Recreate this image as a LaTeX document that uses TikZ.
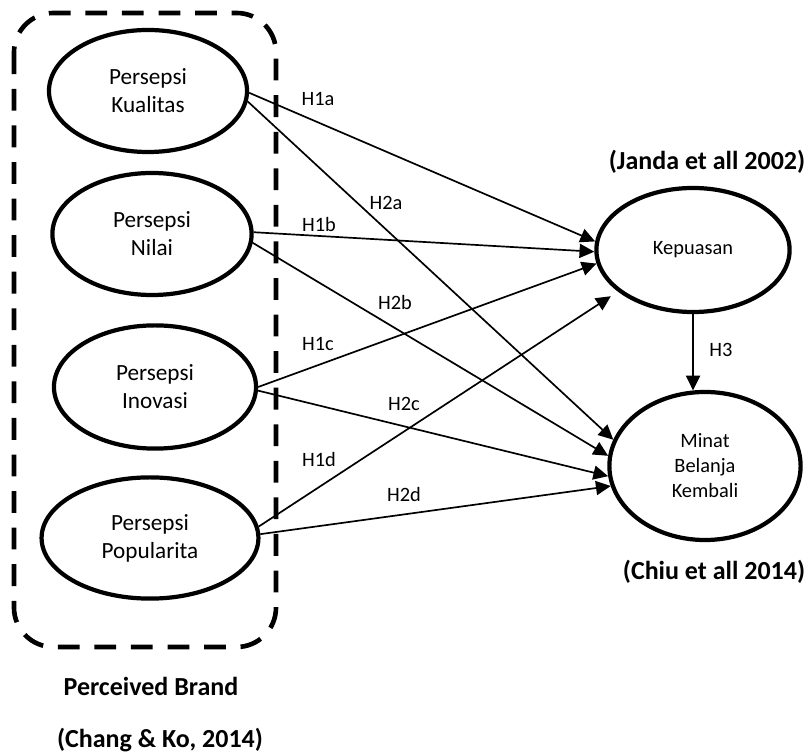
\documentclass[tikz,border=0pt]{standalone}
\usepackage{fontspec}
\setmainfont{Carlito}
\usetikzlibrary{shapes.geometric,arrows.meta}

\begin{document}
\begin{tikzpicture}
[x=0.025cm,y=-0.025cm,>={Triangle[length=10.5pt,width=10pt]},
var/.style={draw,ellipse,line width=3pt,inner sep=0pt,align=center,font=\fontsize{16.5}{20}\selectfont},
dep/.style={var,font=\fontsize{14.5}{17.8}\selectfont},
link/.style={->,line width=1.2pt},
hyp/.style={font=\fontsize{14.5}{17}\selectfont},
cite/.style={font=\bfseries\fontsize{18.5}{22}\selectfont},]
\useasboundingbox (0,0) rectangle (811,753);
% group frame
\draw[line width=3.3pt,dash pattern=on 15.5pt off 10.5pt,rounded corners=28pt] (14,13) rectangle (276,647);

\node (kual) at (148,91)[var,minimum width=4.95cm,minimum height=3.05cm]{Persepsi\\Kualitas};
\node (nilai) at (152,234)[var,minimum width=4.98cm,minimum height=3.05cm]{Persepsi\\Nilai};
\node (inov) at (155,387)[var,minimum width=5.05cm,minimum height=3.08cm]{Persepsi\\Inovasi};
\node (popu) at (150,538)[var,minimum width=5.42cm,minimum height=3.03cm]{Persepsi\\Popularita};
\node (kep) at (693,250)[dep,minimum width=4.83cm,minimum height=3.1cm]{Kepuasan};
\node (minat) at (705,466)[dep,minimum width=4.78cm,minimum height=3.7cm]{Minat\\Belanja\\Kembali};

\node (h1a) at (318,99)[hyp]{H1a};
\node (h2a) at (386,203)[hyp]{H2a};
\node (h1b) at (319,224)[hyp]{H1b};
\node (h2b) at (395,302)[hyp]{H2b};
\node (h1c) at (318,344)[hyp]{H1c};
\node (h2c) at (404,404)[hyp]{H2c};
\node (h1d) at (319,459)[hyp]{H1d};
\node (h2d) at (404,494)[hyp]{H2d};
\node (h3) at (721,350)[hyp]{H3};

\node (janda) at (707,162)[cite]{(Janda et all 2002)};
\node (chiu) at (714,572)[cite]{(Chiu et all 2014)};
\node (brand) at (151,686)[cite]{Perceived Brand};
\node (chang) at (160,740)[cite]{(Chang \& Ko, 2014)};

\draw[link] (kual.-1) -- (kep.175);
\draw[link] (kual.-6) -- (minat.164);
\draw[link] (nilai.1) -- (kep.181);
\draw[link] (nilai.-5) -- (minat.174);
\draw[link] (inov.0) -- (kep.188);
\draw[link] (inov.-2) -- (minat.186);
\draw[link,shorten >=6pt] (popu.6) -- (kep.209);
\draw[link] (popu.2) -- (minat.192);
\draw[link] (kep.south) -- (minat.99);

\end{tikzpicture}
\end{document}
